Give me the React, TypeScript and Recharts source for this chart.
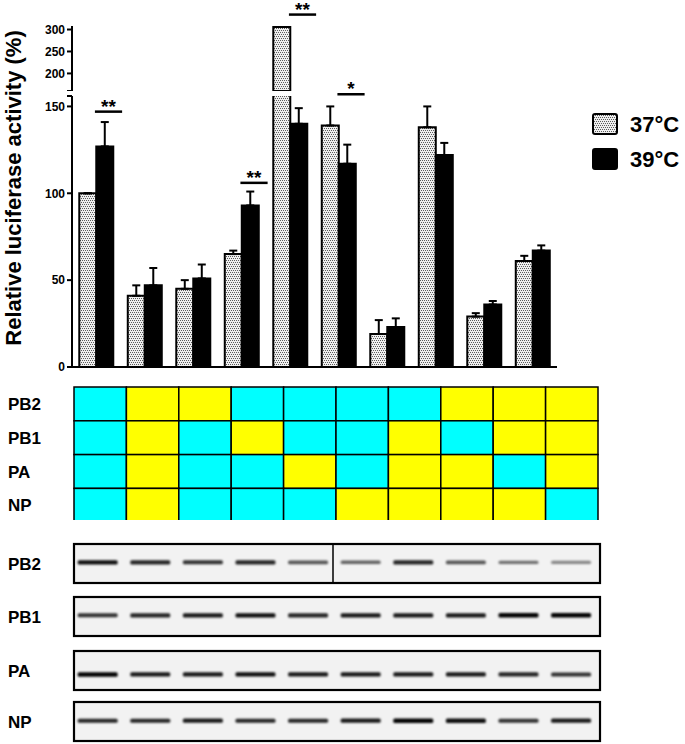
import { BarChart, Bar, XAxis, YAxis, ErrorBar, LabelList } from 'recharts';

const FONT = '"Liberation Sans", Arial, Helvetica, sans-serif';

// luciferase activity, one value per reassortant construct
const constructs = ['1', '2', '3', '4', '5', '6', '7', '8', '9', '10'];
const act37 = [100, 41, 45, 65, 306, 139, 19, 138, 29, 61];
const act39 = [127, 47, 51, 93, 140, 117, 23, 122, 36, 67];
const err37 = [0, 6, 5, 2, 0, 11, 8, 12, 2, 3];
const err39 = [14, 10, 8, 8, 9, 11, 5, 7, 2, 3];
const sigMarks = ['**', '', '', '**', '**', '*', '', '', '', ''];
const sigLevels = [147, null, null, 106, 334, 157, null, null, null, null];

const lowerTicks = [0, 50, 100, 150, 156];
const upperTicks = [160, 200, 250, 300];
const LOWER_MAX = 156;
const UPPER_MIN = 160;
const UPPER_MAX = 308;

// segment origin table: C = cyan, Y = yellow
const segments = ['PB2', 'PB1', 'PA', 'NP'];
const segmentOrigin = [
  'CYYCCCCYYY',
  'CYCYCCYCYY',
  'CYCCYCYYCY',
  'CYCCCYYYYC',
];

// western blot band intensity per lane
const blotProteins = ['PB2', 'PB1', 'PA', 'NP'];
const blotBands = [
  [0.95, 0.85, 0.8, 0.85, 0.65, 0.6, 0.85, 0.65, 0.55, 0.45],
  [0.8, 0.85, 0.9, 0.95, 0.85, 0.9, 0.9, 0.9, 1, 1],
  [1, 0.9, 0.9, 0.95, 0.9, 0.9, 0.9, 0.9, 0.85, 0.8],
  [0.85, 0.85, 0.9, 0.85, 0.85, 0.9, 1, 0.95, 0.8, 0.9],
];

const lowerData = constructs.map((c, i) => ({
  name: c,
  t37: act37[i],
  t39: act39[i],
  e37: act37[i] > LOWER_MAX ? null : [0, err37[i]],
  e39: [0, err39[i]],
}));

const upperData = constructs.map((c, i) => ({
  name: c,
  t37: act37[i] > LOWER_MAX ? act37[i] : null,
  t39: act39[i] > LOWER_MAX ? act39[i] : null,
}));

function bracketLabel(part: 'lower' | 'upper', base: number) {
  return (props: any) => {
    const i = constructs.indexOf(String(props.value));
    if (i < 0) return null;
    const mark = sigMarks[i];
    const level = sigLevels[i];
    if (!mark || level == null) return null;
    const broken = act37[i] > LOWER_MAX;
    if ((part === 'upper') !== broken) return null;
    const vb = props.viewBox || props;
    const { x, y, width, height } = vb;
    if (!height) return null;
    const perUnit = height / (act37[i] - base);
    const ly = y + height - (level - base) * perUnit;
    const x1 = x + width * 0.92;
    const x2 = x1 + width * 1.6;
    return (
      <g key={`sig-${part}-${i}`}>
        <line x1={x1} x2={x2} y1={ly} y2={ly} stroke="#000" strokeWidth={2.5} />
        <text x={(x1 + x2) / 2} y={ly + 1} textAnchor="middle" fontSize={19} fontWeight="bold" fontFamily={FONT} fill="#000">
          {mark}
        </text>
      </g>
    );
  };
}

const tickStyle = { fill: '#000', fontSize: 12, fontWeight: 'bold', fontFamily: FONT };

function Stipple({ id }: { id: string }) {
  return (
    <defs>
      <pattern id={id} width="4" height="4" patternUnits="userSpaceOnUse">
        <rect width="4" height="4" fill="#efefef" />
        <rect x="0" y="0" width="1" height="1" fill="#5c5c5c" />
        <rect x="2" y="0" width="1" height="1" fill="#5c5c5c" />
        <rect x="1" y="2" width="1" height="1" fill="#5c5c5c" />
        <rect x="3" y="2" width="1" height="1" fill="#5c5c5c" />
      </pattern>
    </defs>
  );
}

function LowerChart() {
  return (
    <BarChart width={685} height={380} data={lowerData} margin={{ top: 96, right: 128, bottom: 0, left: 0 }} barCategoryGap="15%" barGap={0}>
      <Stipple id="stippleLow" />
      <XAxis dataKey="name" height={13} tick={false} tickSize={5} axisLine={{ stroke: '#000', strokeWidth: 2 }} tickLine={{ stroke: '#000', strokeWidth: 2 }} />
      <YAxis
        width={72}
        domain={[0, LOWER_MAX]}
        allowDataOverflow
        ticks={lowerTicks}
        interval={0}
        tickFormatter={(v: number) => (v > 150 ? '' : String(v))}
        tick={tickStyle}
        tickSize={5}
        tickMargin={2}
        axisLine={{ stroke: '#000', strokeWidth: 2 }}
        tickLine={{ stroke: '#000', strokeWidth: 2 }}
      />
      <Bar dataKey="t37" fill="url(#stippleLow)" stroke="#000" strokeWidth={2} isAnimationActive={false}>
        <ErrorBar dataKey="e37" width={4} stroke="#000" strokeWidth={2} direction="y" />
        <LabelList dataKey="name" content={bracketLabel('lower', 0)} />
      </Bar>
      <Bar dataKey="t39" fill="#000" stroke="#000" strokeWidth={2} isAnimationActive={false}>
        <ErrorBar dataKey="e39" width={4} stroke="#000" strokeWidth={2} direction="y" />
      </Bar>
    </BarChart>
  );
}

function UpperChart() {
  return (
    <BarChart width={685} height={91} data={upperData} margin={{ top: 26, right: 128, bottom: 0, left: 0 }} barCategoryGap="15%" barGap={0}>
      <Stipple id="stippleUp" />
      <XAxis dataKey="name" hide />
      <YAxis
        width={72}
        domain={[UPPER_MIN, UPPER_MAX]}
        allowDataOverflow
        ticks={upperTicks}
        interval={0}
        tickFormatter={(v: number) => (v < 200 ? '' : String(v))}
        tick={tickStyle}
        tickSize={5}
        tickMargin={2}
        axisLine={{ stroke: '#000', strokeWidth: 2 }}
        tickLine={{ stroke: '#000', strokeWidth: 2 }}
      />
      <Bar dataKey="t37" fill="url(#stippleUp)" stroke="#000" strokeWidth={2} isAnimationActive={false}>
        <LabelList dataKey="name" content={bracketLabel('upper', UPPER_MIN)} />
      </Bar>
      <Bar dataKey="t39" fill="#000" stroke="#000" strokeWidth={2} isAnimationActive={false} />
    </BarChart>
  );
}

const legendItems = [
  { label: '37°C', fill: 'url(#stippleLow)' },
  { label: '39°C', fill: '#000' },
];

function SegmentTable() {
  const left = 74;
  const top = 387;
  const cw = 52.4;
  const rh = 33.8;
  return (
    <svg width={685} height={150} style={{ position: 'absolute', left: 0, top: 370 }}>
      {segmentOrigin.map((row, r) =>
        row.split('').map((s, c) => (
          <rect
            key={`${r}-${c}`}
            x={left + c * cw}
            y={top - 370 + r * rh}
            width={cw}
            height={rh}
            fill={s === 'C' ? '#00ffff' : '#ffff00'}
            stroke="#000"
            strokeWidth={1.5}
          />
        ))
      )}
      {segments.map((s, r) => (
        <text key={s} x={8} y={top - 370 + r * rh + rh / 2 + 6} fontSize={17} fontWeight="bold" fontFamily={FONT} fill="#000">
          {s}
        </text>
      ))}
    </svg>
  );
}

function Blots() {
  const tops = [544, 597, 651, 702];
  const h = 39;
  const left = 74;
  const right = 600;
  const bandRel = [0.47, 0.47, 0.6, 0.48];
  const lw = (right - left) / 10;
  return (
    <svg width={685} height={214} style={{ position: 'absolute', left: 0, top: 530 }}>
      <defs>
        <filter id="bandBlur" x="-20%" y="-100%" width="140%" height="300%">
          <feGaussianBlur stdDeviation="0.9" />
        </filter>
      </defs>
      {blotProteins.map((p, r) => {
        const y0 = tops[r] - 530;
        return (
          <g key={p}>
            <rect x={left} y={y0} width={right - left} height={h} fill="#f2f2f2" stroke="#000" strokeWidth={2.2} />
            {blotBands[r].map((v, i) => {
              const cx = left + lw * (i + 0.45);
              const bh = 2 + 2.5 * v;
              return (
                <rect
                  key={i}
                  x={cx - 20}
                  y={y0 + h * bandRel[r] - bh / 2}
                  width={40}
                  height={bh}
                  rx={1.5}
                  fill={`rgba(0,0,0,${v})`}
                  filter="url(#bandBlur)"
                />
              );
            })}
            {r === 0 && <line x1={333} x2={333} y1={y0} y2={y0 + h} stroke="#000" strokeWidth={1.5} />}
            <text x={8} y={y0 + h / 2 + 6} fontSize={17} fontWeight="bold" fontFamily={FONT} fill="#000">
              {p}
            </text>
          </g>
        );
      })}
    </svg>
  );
}

export default function App() {
  return (
    <div style={{ position: 'absolute', left: 0, top: 0, width: 685, height: 744, background: '#fff', fontFamily: FONT }}>
      <div style={{ position: 'absolute', left: 0, top: 0 }}>
        <LowerChart />
      </div>
      <div style={{ position: 'absolute', left: 0, top: 0 }}>
        <UpperChart />
      </div>
      <svg width={40} height={380} style={{ position: 'absolute', left: 0, top: 0 }}>
        <text
          x={21}
          y={188}
          transform="rotate(-90 21 188)"
          textAnchor="middle"
          fontSize={22}
          fontWeight="bold"
          fontFamily={FONT}
          fill="#000"
        >
          Relative luciferase activity (%)
        </text>
      </svg>
      <div style={{ position: 'absolute', left: 592, top: 107 }}>
        {legendItems.map((it) => (
          <div key={it.label} style={{ display: 'flex', alignItems: 'center', height: 35 }}>
            <svg width={27} height={23}>
              <rect x={1} y={1} width={24} height={20} rx={2} fill={it.fill} stroke="#000" strokeWidth={2} />
            </svg>
            <span style={{ marginLeft: 11, fontSize: 22, fontWeight: 'bold', color: '#000' }}>{it.label}</span>
          </div>
        ))}
      </div>
      <SegmentTable />
      <Blots />
    </div>
  );
}
